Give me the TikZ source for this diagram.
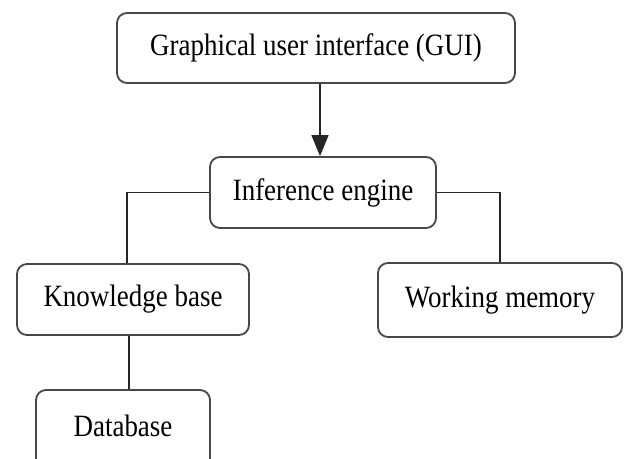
\documentclass[tikz,border=0pt]{standalone}
\usepackage{fontspec}
\setmainfont{Liberation Serif}[FakeStretch=0.87]
\usetikzlibrary{arrows.meta}
\begin{document}
\begin{tikzpicture}[x=1pt,y=-1pt,
  box/.style={draw=black!72, line width=1.8pt, rounded corners=10pt, fill=white,
    inner sep=0pt, font=\fontsize{31}{34}\selectfont},
  conn/.style={draw=black!85, line width=1.5pt},
  arr/.style={conn, -{Triangle[length=21pt,width=17pt]}}]
\useasboundingbox (0,0) rectangle (624,458);
\fill[white] (0,0) rectangle (624,458);
\node[box, minimum width=398pt, minimum height=70pt] (gui) at (316,48) {Graphical user interface (GUI)};
\node[box, minimum width=226pt, minimum height=71pt] (inf) at (323,192.5) {Inference engine};
\node[box, minimum width=232pt, minimum height=71pt] (kb) at (133,299.5) {Knowledge base};
\node[box, minimum width=244pt, minimum height=74pt] (wm) at (500,300) {Working memory};
\node[box, minimum width=174pt, minimum height=80pt, text depth=0pt] (db) at (123,430) {\raisebox{8pt}{Database}};
\coordinate (ax) at (320,0);
\coordinate (lx) at (127,0);
\coordinate (dx) at (129,0);
\draw[arr] (gui.south -| ax) -- (inf.north -| ax);
\draw[conn] (inf.west) -| (lx |- kb.north);
\draw[conn] (inf.east) -| (wm.north);
\draw[conn] (kb.south -| dx) -- (db.north -| dx);
\end{tikzpicture}
\end{document}
